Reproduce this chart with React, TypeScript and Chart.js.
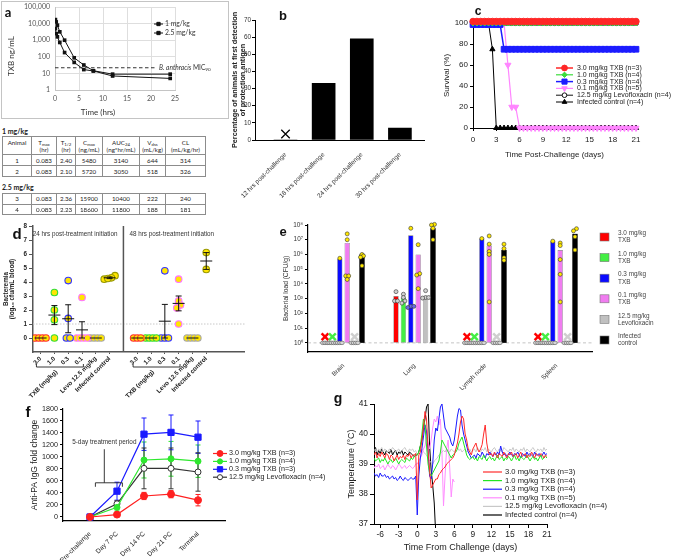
import React, { useEffect, useRef } from "react";
import { Chart, registerables } from "chart.js";

Chart.register(...registerables);

const ARIAL = "'Liberation Sans', Arial, Helvetica, sans-serif";
const CAL = "Lato, 'Liberation Sans', Arial, sans-serif";
Chart.defaults.font.family = ARIAL;
Chart.defaults.color = "#222";

/* ================= DATA ================= */
// a: plasma TXB
const pkTimesHr = [0.083, 0.25, 0.5, 1, 2, 4, 6, 8, 12, 24];
const pk1mg = [5000, 2500, 1600, 730, 180, 46, 17, 14, 7, 5];
const pk25mg = [17400, 12600, 8000, 3200, 1000, 87, 32, 14.5, 9, 9];
const pkSeries = ["1 mg/kg", "2.5 mg/kg"];
const pkYTicks = [1, 10, 100, 1000, 10000, 100000];
const pkMic90 = 22;
const pkColumns = [
  ["Animal", "", ""],
  ["T", "max", "(hr)"],
  ["T", "1/2", "(hr)"],
  ["C", "max", "(ng/mL)"],
  ["AUC", "24", "(ng*hr/mL)"],
  ["V", "dss", "(mL/kg)"],
  ["CL", "", "(mL/kg/hr)"],
];
const pkRows1mg = [
  ["1", "0.083", "2.40", "5480", "3140", "644", "314"],
  ["2", "0.083", "2.10", "5720", "3050", "518", "326"],
];
const pkRows25mg = [
  ["3", "0.083", "2.36", "15900", "10400", "222", "240"],
  ["4", "0.083", "2.23", "18600", "11800", "188", "181"],
];

// b: first detection of PA
const paTimes = ["12 hrs post-challenge", "18 hrs post-challenge", "24 hrs post-challenge", "30 hrs post-challenge"];
const paPercent = [0, 33, 59, 7];
const paNotDetectedY = 3.5;

// c: survival
const survDays = [0, 0.5, 1, 1.5, 2, 2.5, 3, 3.5, 4, 4.5, 5, 5.5, 6, 6.5, 7, 7.5, 8, 8.5, 9, 9.5, 10, 10.5, 11, 11.5, 12, 12.5, 13, 13.5, 14, 14.5, 15, 15.5, 16, 16.5, 17, 17.5, 18, 18.5, 19, 19.5, 20, 20.5, 21];
const survNames = ["3.0 mg/kg TXB (n=3)", "1.0 mg/kg TXB (n=4)", "0.3 mg/kg TXB (n=4)", "0.1 mg/kg TXB (n=5)", "12.5 mg/kg Levofloxacin (n=4)", "Infected control (n=4)"];
const surv30 = [101.5, 101.5, 101.5, 101.5, 101.5, 101.5, 101.5, 101.5, 101.5, 101.5, 101.5, 101.5, 101.5, 101.5, 101.5, 101.5, 101.5, 101.5, 101.5, 101.5, 101.5, 101.5, 101.5, 101.5, 101.5, 101.5, 101.5, 101.5, 101.5, 101.5, 101.5, 101.5, 101.5, 101.5, 101.5, 101.5, 101.5, 101.5, 101.5, 101.5, 101.5, 101.5, 101.5];
const surv10 = [100, 100, 100, 100, 100, 100, 100, 100, 100, 100, 100, 100, 100, 100, 100, 100, 100, 100, 100, 100, 100, 100, 100, 100, 100, 100, 100, 100, 100, 100, 100, 100, 100, 100, 100, 100, 100, 100, 100, 100, 100, 100, 100];
const surv03 = [98.5, 98.5, 98.5, 98.5, 98.5, 98.5, 98.5, 98.5, 75, 75, 75, 75, 75, 75, 75, 75, 75, 75, 75, 75, 75, 75, 75, 75, 75, 75, 75, 75, 75, 75, 75, 75, 75, 75, 75, 75, 75, 75, 75, 75, 75, 75, 75];
const surv01 = [100, 100, 100, 100, 100, 100, 100, 100, 100, 60, 20, 20, 0, 0, 0, 0, 0, 0, 0, 0, 0, 0, 0, 0, 0, 0, 0, 0, 0, 0, 0, 0, 0, 0, 0, 0, 0, 0, 0, 0, 0, 0, 0];
const survLevo = [100, 100, 100, 100, 100, 100, 100, 100, 100, 100, 100, 100, 100, 100, 100, 100, 100, 100, 100, 100, 100, 100, 100, 100, 100, 100, 100, 100, 100, 100, 100, 100, 100, 100, 100, 100, 100, 100, 100, 100, 100, 100, 100];
const survCtrl = [100, 100, 100, 100, 100, 75, 0, 0, 0, 0, 0, 0, 0, 0, 0, 0, 0, 0, 0, 0, 0, 0, 0, 0, 0, 0, 0, 0, 0, 0, 0, 0, 0, 0, 0, 0, 0, 0, 0, 0, 0, 0, 0];

// d: bacteremia (log10 cfu/mL)
const bactLabels = ["3.0", "1.0", "0.3", "0.1", "Levo 12.5 mg/kg", "Infected control"];
const bactSlots = [[1, 2, 3, 4, 5, 6], [8, 9, 10, 11, 12, 13]];
const bact24h = [[0, 0, 0, 0], [3.25, 2.0, 1.3, 0], [4.1, 1.4, 0, 0], [2.9, 0, 0, 0, 0], [0, 0, 0, 0], [4.45, 4.3, 4.2, 4.25]];
const bact24hPositive = [[0, 0, 0, 0], [0, 0, 0, 0], [1, 1, 0, 0], [1, 1, 0, 0, 0], [0, 0, 0, 0], [1, 1, 1, 1]];
const bact24hSem = [0, 0.68, 1.0, 0.58, 0, 0.06];
const bact48h = [[0, 0, 0], [0, 0, 0, 0], [4.8, 0, 0, 0], [4.2, 2.65, 2.35, 2.15, 1.0], [0, 0, 0, 0], [6.1, 4.9]];
const bact48hPositive = [[0, 0, 0], [0, 0, 0, 0], [1, 0, 0, 0], [1, 1, 1, 1, 1], [0, 0, 0, 0], [1, 1]];
const bact48hSem = [0, 0, 1.2, 0.53, 0, 0.6];
const bactHeaders = ["24 hrs post-treatment initiation", "48 hrs post-treatment initiation"];

// e: bacterial load in organs (CFU/g)
const organs = ["Brain", "Lung", "Lymph node", "Spleen"];
const loadLegend = [["3.0 mg/kg", "TXB"], ["1.0 mg/kg", "TXB"], ["0.3 mg/kg", "TXB"], ["0.1 mg/kg", "TXB"], ["12.5 mg/kg", "Levofloxacin"], ["Infected", "control"]];
const loadTickLabels = ["10⁰", "10¹", "10²", "10³", "10⁴", "10⁵", "10⁶", "10⁷", "10⁸"];
const loadTicks = [1, 10, 100, 1e3, 1e4, 1e5, 1e6, 1e7, 1e8];
const LOD = 1;
const loadBar30 = [null, 1500, null, null];
const loadBar10 = [null, 1200, null, null];
const loadBar03 = [5e5, 2e7, 1.2e7, 8e6];
const loadBar01 = [6e6, 1e6, 4e6, 2e6];
const loadBarLevo = [null, 1200, null, null];
const loadBarCtrl = [1e6, 6e7, 2e6, 2.5e7];
const loadPts30 = [[1, 1, 1], [3000, 700, 700], [1, 1, 1], [1, 1, 1]];
const loadPts10 = [[1, 1, 1, 1], [2000, 1200, 700, 500], [1, 1, 1, 1], [1, 1, 1, 1]];
const loadPts03 = [[5.5e5, 1, 1, 1], [6e7, 300, 300, 250], [1.2e7, 1, 1, 1], [8e6, 1, 1, 1]];
const loadPts01 = [[2.5e7, 1e7, 3.5e4, 3.5e4, 2e4], [4.6e6, 5e4, 4e4, 4.8e3], [1.8e7, 5e6, 1.6e6, 1e6, 600], [6e6, 4e6, 4.5e5, 4.5e4, 600]];
const loadPtsLevo = [[1, 1, 1, 1], [3500, 1200, 1200, 1100], [1, 1, 1, 1], [1, 1, 1, 1]];
const loadPtsCtrl = [[1e6, 8e5, 6.5e5, 1.7e5], [1.1e8, 1e8, 6e7, 1e7], [5e6, 2.5e6, 6e5, 4e5], [5.6e7, 4e7, 1.6e7, 2e6]];
const loadNotDetectedY = 2.6;

// f: anti-PA IgG
const igTimepoints = ["Pre-challenge", "Day 7 PC", "Day 14 PC", "Day 21 PC", "Terminal"];
const igNames = ["3.0 mg/kg TXB (n=3)", "1.0 mg/kg TXB (n=4)", "0.3 mg/kg TXB (n=3)", "12.5 mg/kg Levofloxacin (n=4)"];
const ig30 = [0, 40, 350, 380, 280];
const ig30Sem = [8, 20, 60, 60, 95];
const ig10 = [0, 160, 950, 970, 930];
const ig10Sem = [8, 60, 300, 290, 270];
const ig03 = [0, 430, 1380, 1410, 1330];
const ig03Sem = [8, 150, 270, 290, 270];
const igLevo = [0, 220, 810, 810, 750];
const igLevoSem = [8, 50, 340, 340, 320];
const igTreatmentLabel = "5-day treatment period";

// g: body temperature
const tempDays = [-7, -6.75, -6.5, -6.25, -6, -5.75, -5.5, -5.25, -5, -4.75, -4.5, -4.25, -4, -3.75, -3.5, -3.25, -3, -2.75, -2.5, -2.25, -2, -1.75, -1.5, -1.25, -1, -0.75, -0.5, -0.25, 0, 0.25, 0.5, 0.75, 1, 1.25, 1.5, 1.75, 2, 2.25, 2.5, 2.75, 3, 3.25, 3.5, 3.75, 4, 4.25, 4.5, 4.75, 5, 5.25, 5.5, 5.75, 6, 6.25, 6.5, 6.75, 7, 7.25, 7.5, 7.75, 8, 8.25, 8.5, 8.75, 9, 9.25, 9.5, 9.75, 10, 10.25, 10.5, 10.75, 11, 11.25, 11.5, 11.75, 12, 12.25, 12.5, 12.75, 13, 13.25, 13.5, 13.75, 14, 14.25, 14.5, 14.75, 15, 15.25, 15.5, 15.75, 16, 16.25, 16.5, 16.75, 17, 17.25, 17.5, 17.75, 18, 18.25, 18.5, 18.75, 19, 19.25, 19.5, 19.75, 20, 20.25, 20.5, 20.75, 21];
const tempTicks = [-6, -3, 0, 3, 6, 9, 12, 15, 18, 21];
const tempNames = ["3.0 mg/kg TXB (n=3)", "1.0 mg/kg TXB (n=4)", "0.3 mg/kg TXB (n=4)", "0.1 mg/kg TXB (n=5)", "12.5 mg/kg Levofloxacin (n=4)", "Infected control (n=4)"];
const temp30 = [
  39.3, 39.4, 39.2, 39.35, 39.25, 39.4, 39.3, 39.2, 39.35, 39.3, 39.15, 39.3, 39.25, 39.1, 39.2, 39.3, 39.15, 39.25, 39.2, 39.3, 39.15, 39.3, 39.25, 39.35, 39.2, 39.3, 39.3, 39.35,
  37.8, 39.3, 39.4, 39.8, 40.2, 40.75, 40.5, 39.5, 38.8, 38.2, 38.3, 38.4, 38.5, 38.5, 38.65, 38.7, 38.8, 38.85, 38.9, 39.0, 39.05, 39.1, 39.15, 39.2, 39.3, 39.5, 39.7, 40.0, 40.4, 40.6, 40.5, 40.0, 39.8, 39.5, 39.4, 39.3, 39.5, 39.6, 39.7, 39.5, 39.4, 39.5, 39.65, 40.0, 40.3, 39.7, 39.4, 39.3,
  39.35, 39.25, 39.4, 39.3, 39.2, 39.35, 39.3, 39.25, 39.4, 39.3, 39.2, 39.35, 39.3, 39.4, 39.25, 39.3, 39.35, 39.2, 39.3, 39.4, 39.25, 39.3, 39.35, 39.2, 39.3, 39.25, 39.4, 39.3, 39.2, 39.35, 39.3, 39.25, 39.35, 39.3, 39.2, 39.3, 39.25,
];
const temp10 = [
  39.2, 39.1, 39.15, 39.2, 39.05, 39.15, 39.1, 39.2, 39.1, 39.0, 39.1, 39.15, 39.05, 39.1, 39.2, 39.1, 39.0, 39.1, 39.15, 39.1, 39.05, 39.2, 39.15, 39.1, 39.2, 39.15, 39.25, 39.3,
  39.3, 39.4, 39.6, 40.0, 40.5, 40.3, 39.6, 39.0, 38.7, 38.6, 38.7, 38.8, 38.9, 39.0, 39.1, 39.4, 39.8, 39.7, 39.6, 39.5, 39.4, 39.3, 39.2, 39.3, 39.35, 39.4, 39.5, 39.7, 39.8, 39.9, 39.7, 39.5, 39.3, 39.2, 39.15, 39.2,
  39.25, 39.15, 39.2, 39.1, 39.25, 39.2, 39.15, 39.3, 39.2, 39.1, 39.2, 39.25, 39.15, 39.2, 39.1, 39.2, 39.3, 39.15, 39.2, 39.25, 39.1, 39.2, 39.15, 39.25, 39.2, 39.1, 39.2, 39.3, 39.15, 39.2, 39.1, 39.25, 39.2, 39.15, 39.2, 39.3, 39.2, 39.1, 39.2, 39.25, 39.15, 39.2, 39.1, 39.2, 39.3, 39.15, 39.2, 39.25, 39.2,
];
const temp03 = [
  38.7, 38.6, 38.65, 38.55, 38.7, 38.6, 38.6, 38.65, 38.55, 38.6, 38.5, 38.55, 38.6, 38.5, 38.55, 38.45, 38.5, 38.6, 38.5, 38.45, 38.55, 38.5, 38.45, 38.5, 38.55, 38.5, 38.5, 38.6,
  37.3, 38.6, 39.2, 39.5, 39.9, 40.3, 40.1, 39.4, 38.6, 38.5, 39.0, 39.8, 40.2, 40.1, 40.5, 40.9, 41.0, 40.6, 40.2, 40.1, 40.0, 39.9, 39.7, 39.6, 39.8, 40.2, 40.6, 40.85, 40.8, 40.3, 40.0, 39.8, 39.6, 39.4, 39.3, 39.2,
  39.25, 39.3, 39.2, 39.35, 39.3, 39.25, 39.4, 39.3, 39.2, 39.35, 39.3, 39.4, 39.3, 39.25, 39.35, 39.3, 39.4, 39.3, 39.6, 39.4, 39.3, 39.35, 39.25, 39.3, 39.4, 39.3, 39.25, 39.35, 39.3, 39.4, 39.3, 39.2, 39.35, 39.3, 39.25, 39.4, 39.3, 39.35, 39.3, 39.25, 39.4, 39.3, 39.3, 39.35, 39.25, 39.3, 39.4, 39.3, 39.35,
];
const temp01 = [
  38.85, 38.95, 38.9, 39.0, 38.85, 38.9, 38.95, 38.8, 38.9, 39.0, 38.9, 38.85, 38.95, 38.9, 38.8, 38.9, 39.0, 38.95, 38.85, 38.9, 38.95, 38.85, 38.9, 38.95, 38.9, 38.85, 38.9, 39.0,
  39.0, 39.1, 39.2, 39.3, 39.5, 39.6, 39.9, 39.7, 39.5, 39.8, 40.2, 40.5, 40.4, 40.6, 40.3, 40.5, 39.4, 37.6, 38.6, 39.5, 39.8, 38.9, 37.9, 38.5, 38.4,
];
const tempLevo = [
  39.45, 39.5, 39.4, 39.5, 39.45, 39.55, 39.4, 39.5, 39.45, 39.4, 39.5, 39.45, 39.55, 39.5, 39.4, 39.45, 39.5, 39.4, 39.45, 39.5, 39.55, 39.45, 39.4, 39.5, 39.45, 39.5, 39.4, 39.45,
  39.3, 39.4, 39.45, 39.5, 39.4, 39.35, 39.3, 39.2, 39.1, 39.05, 39.0, 39.1, 39.15, 39.2, 39.3, 39.35, 39.4, 39.45, 39.4, 39.5, 39.45, 39.4, 39.5, 39.45, 39.4, 39.5, 39.55, 39.45, 39.5, 39.4, 39.45, 39.5, 39.4, 39.45, 39.5, 39.4,
  39.45, 39.5, 39.4, 39.55, 39.45, 39.4, 39.5, 39.45, 39.55, 39.4, 39.5, 39.45, 39.4, 39.5, 39.55, 39.45, 39.4, 39.5, 39.45, 39.4, 39.55, 39.5, 39.45, 39.4, 39.5, 39.45, 39.55, 39.4, 39.5, 39.45, 39.4, 39.5, 39.45, 39.55, 39.4, 39.5, 39.45, 39.4, 39.5, 39.55, 39.45, 39.4, 39.5, 39.45, 39.5, 39.4, 39.55, 39.45, 39.5,
];
const tempCtrl = [
  39.4, 39.55, 39.3, 39.45, 39.35, 39.5, 39.4, 39.3, 39.45, 39.4, 39.35, 39.5, 39.3, 39.4, 39.45, 39.3, 39.4, 39.35, 39.45, 39.3, 39.4, 39.35, 39.3, 39.4, 39.35, 39.3, 39.25, 39.3,
  39.3, 39.4, 39.6, 39.8, 40.2, 40.5, 40.9, 41.0, 39.6, 38.8, 38.3, 37.7, 36.6,
];

/* ================= LAYOUT ================= */
type Rect = { x: number; y: number; w: number; h: number };
type Area = { l: number; t: number; r: number; b: number };
const A_CANVAS: Rect = { x: 2, y: 2, w: 226, h: 116 };
const A_AREA: Area = { l: 55, t: 7, r: 175, b: 90 };
const B_CANVAS: Rect = { x: 228, y: 0, w: 204, h: 225 };
const B_AREA: Area = { l: 255, t: 20, r: 430, b: 140 };
const C_CANVAS: Rect = { x: 432, y: 0, w: 246, h: 170 };
const C_AREA: Area = { l: 473, t: 23, r: 636, b: 128 };
const D_CANVAS: Rect = { x: 0, y: 218, w: 250, h: 180 };
const D_AREA: Area = { l: 33, t: 226, r: 247, b: 352 };
const E_CANVAS: Rect = { x: 276, y: 218, w: 402, h: 172 };
const E_AREA: Area = { l: 308, t: 225, r: 592, b: 352 };
const F_CANVAS: Rect = { x: 0, y: 400, w: 345, h: 160 };
const F_AREA: Area = { l: 63, t: 409, r: 225, b: 521 };
const G_CANVAS: Rect = { x: 340, y: 395, w: 338, h: 165 };
const G_AREA: Area = { l: 374, t: 404, r: 547, b: 524 };

function frame(c: Rect, a: Area) {
  return {
    padding: { left: 0, top: a.t - c.y, right: c.x + c.w - a.r, bottom: 0 },
    yWidth: a.l - c.x,
    xHeight: c.y + c.h - a.b,
  };
}
const fixY = (w: number) => (s: any) => {
  s.width = w;
  s.paddingTop = 0;
  s.paddingBottom = 0;
  s.paddingLeft = 0;
  s.paddingRight = 0;
};
const fixX = (h: number) => (s: any) => {
  s.height = h;
  s.paddingLeft = 0;
  s.paddingRight = 0;
  s.paddingTop = 0;
  s.paddingBottom = 0;
};
function base(f: any) {
  return {
    animation: false,
    responsive: true,
    maintainAspectRatio: false,
    events: [],
    layout: { padding: f.padding },
    plugins: { legend: { display: false }, tooltip: { enabled: false } },
  };
}

/* ================= DRAW HELPERS ================= */
function seg(ctx: any, x1: number, y1: number, x2: number, y2: number) {
  ctx.beginPath();
  ctx.moveTo(x1, y1);
  ctx.lineTo(x2, y2);
  ctx.stroke();
}
function drawMarker(ctx: any, style: string, x: number, y: number, r: number, fill: any, stroke: any, rot = 0, lw = 1) {
  ctx.save();
  ctx.beginPath();
  if (style === "rect") {
    const s = r * Math.SQRT1_2;
    ctx.rect(x - s, y - s, 2 * s, 2 * s);
  } else if (style === "rectRot") {
    ctx.moveTo(x, y - r);
    ctx.lineTo(x + r, y);
    ctx.lineTo(x, y + r);
    ctx.lineTo(x - r, y);
    ctx.closePath();
  } else if (style === "triangle") {
    for (let k = 0; k < 3; k++) {
      const ang = rot + (k * 2 * Math.PI) / 3;
      const vx = x + Math.sin(ang) * r;
      const vy = y - Math.cos(ang) * r;
      if (k === 0) ctx.moveTo(vx, vy);
      else ctx.lineTo(vx, vy);
    }
    ctx.closePath();
  } else {
    ctx.arc(x, y, r, 0, Math.PI * 2);
  }
  if (fill) {
    ctx.fillStyle = fill;
    ctx.fill();
  }
  if (stroke) {
    ctx.strokeStyle = stroke;
    ctx.lineWidth = lw;
    ctx.stroke();
  }
  ctx.restore();
}
function clusterOffsets(vals: number[], tol: number, step: number) {
  const idx = vals.map((_, i) => i).sort((a, b) => vals[a] - vals[b]);
  const out = vals.map(() => 0);
  let i = 0;
  while (i < idx.length) {
    let j = i;
    while (j + 1 < idx.length && vals[idx[j + 1]] - vals[idx[i]] <= tol) j++;
    const n = j - i + 1;
    for (let k = 0; k < n; k++) out[idx[i + k]] = (k - (n - 1) / 2) * step;
    i = j + 1;
  }
  return out;
}
function lineLegend(id: string, L: any) {
  return {
    id,
    afterDraw(chart: any) {
      const ctx = chart.ctx;
      ctx.save();
      ctx.font = `${L.size}px ${L.family || ARIAL}`;
      ctx.textBaseline = "middle";
      ctx.textAlign = "left";
      let row = 0;
      chart.data.datasets.forEach((ds: any) => {
        if (!ds.label) return;
        const y = L.y0 + row * L.dy;
        row++;
        ctx.strokeStyle = ds.borderColor;
        ctx.lineWidth = L.lw ?? ds.borderWidth ?? 1;
        seg(ctx, L.x0, y, L.x1, y);
        if (ds.pointRadius)
          drawMarker(ctx, ds.pointStyle, (L.x0 + L.x1) / 2, y, ds.pointRadius * (L.markerScale || 1), ds.pointBackgroundColor, ds.pointBorderColor, ((ds.pointRotation || 0) * Math.PI) / 180);
        ctx.fillStyle = L.color || "#222";
        ctx.fillText(ds.label, L.tx, y);
      });
      ctx.restore();
    },
  };
}
const yTickAxis = (extra: any) => ({
  grid: { drawOnChartArea: false, drawTicks: true, tickLength: 3, color: "#000" },
  border: { color: "#000", width: 1 },
  ...extra,
});

/* ================= PANEL CONFIGS ================= */
function configA() {
  const f = frame(A_CANVAS, A_AREA);
  const mk = (label: string, vals: number[]) => ({
    label,
    data: pkTimesHr.map((t, i) => ({ x: t, y: vals[i] })),
    borderColor: "#111",
    backgroundColor: "#111",
    borderWidth: 1,
    pointStyle: "rect",
    pointRadius: 2.6,
    pointBackgroundColor: "#111",
    pointBorderColor: "#111",
    pointBorderWidth: 0,
  });
  const extras = {
    id: "pkExtras",
    afterDraw(chart: any) {
      const { ctx, chartArea: a, scales } = chart;
      const y = scales.y.getPixelForValue(pkMic90);
      ctx.save();
      ctx.strokeStyle = "#333";
      ctx.lineWidth = 1.1;
      ctx.setLineDash([3.5, 2.5]);
      seg(ctx, a.left, y, a.right - 18, y);
      ctx.setLineDash([]);
      let x = a.right - 16;
      ctx.fillStyle = "#333";
      ctx.textBaseline = "middle";
      ctx.textAlign = "left";
      ctx.font = `italic 6.6px ${CAL}`;
      ctx.fillText("B. anthracis", x, y);
      x += ctx.measureText("B. anthracis").width;
      ctx.font = `6.6px ${CAL}`;
      ctx.fillText(" MIC", x, y);
      x += ctx.measureText(" MIC").width;
      ctx.font = `4.6px ${CAL}`;
      ctx.fillText("90", x, y + 2);
      ctx.font = `8px ${CAL}`;
      ctx.textAlign = "center";
      ctx.fillStyle = "#333";
      ctx.fillText("Time (hrs)", 96, 110);
      ctx.translate(9.5, 54);
      ctx.rotate(-Math.PI / 2);
      ctx.fillText("TXB ng/mL", 0, 0);
      ctx.restore();
    },
  };
  return {
    type: "line",
    data: { datasets: [mk(pkSeries[0], pk1mg), mk(pkSeries[1], pk25mg)] },
    options: {
      ...base(f),
      scales: {
        x: {
          type: "linear",
          min: 0,
          max: 25,
          ticks: { stepSize: 5, padding: 5, font: { family: CAL, size: 7 }, color: "#555" },
          grid: { color: "#dedede", drawTicks: false },
          border: { color: "#c4c4c4" },
          afterFit: fixX(f.xHeight),
        },
        y: {
          type: "logarithmic",
          min: 1,
          max: 100000,
          afterBuildTicks: (s: any) => {
            s.ticks = pkYTicks.map((v) => ({ value: v }));
          },
          ticks: { padding: 5, font: { family: CAL, size: 7 }, color: "#555", callback: (v: any) => Number(v).toLocaleString("en-US") },
          grid: { color: "#dedede", drawTicks: false },
          border: { color: "#c4c4c4" },
          afterFit: fixY(f.yWidth),
        },
      },
    },
    plugins: [extras, lineLegend("legA", { x0: 152, x1: 161, tx: 163, y0: 22, dy: 9, size: 6.8, family: CAL, color: "#333", markerScale: 0.9 })],
  };
}

function configB() {
  const f = frame(B_CANVAS, B_AREA);
  return {
    type: "bar",
    data: {
      datasets: [
        { type: "bar", data: paPercent.map((v, i) => ({ x: i, y: v })), backgroundColor: "#000", borderWidth: 0, barThickness: 23, order: 2 },
        { type: "scatter", data: [{ x: 0, y: paNotDetectedY }], pointStyle: "crossRot", pointRadius: 6, pointBorderColor: "#000", pointBorderWidth: 1.3, order: 1 },
      ],
    },
    options: {
      ...base(f),
      scales: {
        x: {
          type: "linear",
          offset: false,
          min: -0.8,
          max: 3.65,
          afterBuildTicks: (s: any) => {
            s.ticks = paTimes.map((_, i) => ({ value: i }));
          },
          ticks: { autoSkip: false, minRotation: 45, maxRotation: 45, padding: 3, font: { size: 6.4 }, color: "#333", callback: (v: any) => paTimes[v] },
          grid: { display: false },
          border: { color: "#000", width: 1 },
          afterFit: fixX(f.xHeight),
        },
        y: yTickAxis({
          min: 0,
          max: 70,
          ticks: { stepSize: 10, padding: 1, font: { size: 6.4 }, color: "#333" },
          title: {
            display: true,
            text: ["Percentage of animals at first detection", "of protection antigen"],
            font: { size: 7.3, weight: "bold", lineHeight: 1.1 },
            color: "#222",
            padding: { top: 3, bottom: 0 },
          },
          afterFit: fixY(f.yWidth),
        }),
      },
    },
  };
}

function configC() {
  const f = frame(C_CANVAS, C_AREA);
  const mk = (label: string, vals: number[], color: string, style: string, r: number, bg: string, lw: number, extra: any = {}) => ({
    label,
    data: survDays.map((d, i) => ({ x: d, y: vals[i] })),
    borderColor: color,
    backgroundColor: bg,
    borderWidth: lw,
    pointStyle: style,
    pointRadius: r,
    pointBackgroundColor: bg,
    pointBorderColor: color,
    pointBorderWidth: 1,
    clip: false,
    ...extra,
  });
  return {
    type: "line",
    data: {
      datasets: [
        mk(survNames[0], surv30, "#ff2626", "circle", 3.2, "#ff2626", 1.5),
        mk(survNames[1], surv10, "#3cdc3c", "rectRot", 3, "#3cdc3c", 1.2),
        mk(survNames[2], surv03, "#1c1cff", "rect", 4, "#1c1cff", 1.5),
        mk(survNames[3], surv01, "#ff85ff", "triangle", 3.5, "#ff85ff", 1.2, { pointRotation: 180 }),
        mk(survNames[4], survLevo, "#111", "circle", 2.6, "#fff", 1),
        mk(survNames[5], survCtrl, "#000", "triangle", 3, "#000", 1),
      ],
    },
    options: {
      ...base(f),
      scales: {
        x: yTickAxis({
          type: "linear",
          min: 0,
          max: 21,
          ticks: { stepSize: 3, padding: 4, font: { size: 8 }, color: "#222" },
          title: { display: true, text: "Time Post-Challenge (days)", font: { size: 8 }, color: "#222", padding: { top: 0, bottom: 10 } },
          afterFit: fixX(f.xHeight),
        }),
        y: yTickAxis({
          min: 0,
          max: 100,
          ticks: { stepSize: 10, padding: 2, font: { size: 8 }, color: "#222" },
          title: { display: true, text: "Survival (%)", font: { size: 8 }, color: "#222", padding: { top: 10, bottom: 0 } },
          afterFit: fixY(f.yWidth),
        }),
      },
    },
    plugins: [lineLegend("legC", { x0: 124, x1: 141, tx: 145, y0: 68, dy: 6.8, size: 7, markerScale: 0.9 })],
  };
}

const bactEdge = ["#ff3030", "#33dd33", "#3434ff", "#ff74ff", "#a8a8a8", "#9a9a00"];
const bactFill = ["rgba(255,140,140,0.35)", "rgba(0,0,0,0)", "rgba(0,0,0,0)", "rgba(0,0,0,0)", "#b3b3b3", "#f2e200"];

function configD() {
  const f = frame(D_CANVAS, D_AREA);
  const datasets: any[] = [];
  const groups: any[] = [];
  [bact24h, bact48h].forEach((set, h) => {
    const flags = h === 0 ? bact24hPositive : bact48hPositive;
    const sems = h === 0 ? bact24hSem : bact48hSem;
    set.forEach((vals, g) => {
      const pos = bactSlots[h][g];
      const offs = clusterOffsets(vals, 0.3, 0.26);
      datasets.push({
        type: "scatter",
        data: vals.map((v, k) => ({ x: pos + offs[k], y: v })),
        pointRadius: 3.3,
        pointBorderWidth: 1.1,
        pointBorderColor: bactEdge[g],
        pointBackgroundColor: vals.map((_, k) => (flags[k] ? "#ffe500" : bactFill[g])),
      });
      groups.push({ pos, mean: vals.reduce((a, b) => a + b, 0) / vals.length, sem: sems[g] });
    });
  });
  const extras = {
    id: "dExtras",
    beforeDatasetsDraw(chart: any) {
      const { ctx, chartArea: a, scales } = chart;
      const { x, y } = scales;
      ctx.save();
      ctx.strokeStyle = "#c8c8c8";
      ctx.lineWidth = 1;
      ctx.setLineDash([1.5, 1.5]);
      seg(ctx, a.left, y.getPixelForValue(1), a.right, y.getPixelForValue(1));
      ctx.setLineDash([]);
      ctx.strokeStyle = "#555";
      ctx.lineWidth = 1.5;
      seg(ctx, x.getPixelForValue(7), a.top, x.getPixelForValue(7), a.bottom);
      ctx.restore();
    },
    afterDatasetsDraw(chart: any) {
      const { ctx, scales } = chart;
      const { x, y } = scales;
      ctx.save();
      ctx.strokeStyle = "#111";
      ctx.lineWidth = 1;
      groups.forEach((g) => {
        const px = x.getPixelForValue(g.pos);
        const my = y.getPixelForValue(g.mean);
        seg(ctx, px - 6, my, px + 6, my);
        if (g.sem > 0) {
          const t = y.getPixelForValue(g.mean + g.sem);
          const b = y.getPixelForValue(g.mean - g.sem);
          seg(ctx, px, t, px, b);
          seg(ctx, px - 3, t, px + 3, t);
          seg(ctx, px - 3, b, px + 3, b);
        }
      });
      ctx.restore();
    },
    afterDraw(chart: any) {
      const { ctx, chartArea: a, scales } = chart;
      const { x } = scales;
      ctx.save();
      ctx.fillStyle = "#333";
      ctx.font = `6.3px ${ARIAL}`;
      ctx.textAlign = "center";
      ctx.textBaseline = "middle";
      ctx.fillText(bactHeaders[0], x.getPixelForValue(3.5), a.top + 8);
      ctx.fillText(bactHeaders[1], x.getPixelForValue(10.5), a.top + 8);
      ctx.strokeStyle = "#222";
      ctx.lineWidth = 0.9;
      bactSlots.forEach((slots) => {
        const x0 = x.getPixelForValue(slots[0] - 0.3);
        const x1 = x.getPixelForValue(slots[3] + 0.1);
        const by = a.bottom + 15;
        ctx.beginPath();
        ctx.moveTo(x0, by - 3);
        ctx.lineTo(x0, by);
        ctx.lineTo(x1, by);
        ctx.lineTo(x1, by - 3);
        ctx.stroke();
        ctx.save();
        ctx.translate(x.getPixelForValue(slots[0] + 1.15), by + 4);
        ctx.rotate(-Math.PI / 4);
        ctx.font = `bold 6.3px ${ARIAL}`;
        ctx.textAlign = "right";
        ctx.fillStyle = "#222";
        ctx.fillText("TXB (mg/kg)", 0, 0);
        ctx.restore();
      });
      ctx.restore();
    },
  };
  const allSlots = [...bactSlots[0], ...bactSlots[1]];
  return {
    type: "scatter",
    data: { datasets },
    options: {
      ...base(f),
      scales: {
        x: {
          type: "linear",
          min: 0.45,
          max: 15.8,
          afterBuildTicks: (s: any) => {
            s.ticks = allSlots.map((v) => ({ value: v }));
          },
          ticks: {
            autoSkip: false,
            minRotation: 45,
            maxRotation: 45,
            padding: 1,
            font: { size: 6.3, weight: "bold" },
            color: "#222",
            callback: (v: any) => bactLabels[allSlots.indexOf(v) % 6],
          },
          grid: { drawOnChartArea: false, tickLength: 2, color: "#555" },
          border: { color: "#555", width: 1.5 },
          afterFit: fixX(f.xHeight),
        },
        y: {
          min: -1,
          max: 8,
          afterBuildTicks: (s: any) => {
            s.ticks = [0, 1, 2, 3, 4, 5, 6, 7, 8].map((v) => ({ value: v }));
          },
          ticks: { padding: 2, font: { size: 6.3, weight: "bold" }, color: "#222" },
          grid: { drawOnChartArea: false, tickLength: 4, color: "#555" },
          border: { color: "#555", width: 1.5 },
          title: {
            display: true,
            text: ["Bacteremia", "(log₁₀ cfu/mL blood)"],
            font: { size: 6.3, weight: "bold", lineHeight: 1.05 },
            color: "#222",
            padding: { top: 2.7, bottom: 0 },
          },
          afterFit: fixY(f.yWidth),
        },
      },
    },
    plugins: [extras],
  };
}

const loadColors = ["#ff0000", "#44ee44", "#0a0aff", "#f07cf0", "#c0c0c0", "#000000"];
const loadBars = [loadBar30, loadBar10, loadBar03, loadBar01, loadBarLevo, loadBarCtrl];
const loadPts = [loadPts30, loadPts10, loadPts03, loadPts01, loadPtsLevo, loadPtsCtrl];

function configE() {
  const f = frame(E_CANVAS, E_AREA);
  const datasets = loadBars.map((bars, s) => ({
    label: loadLegend[s].join(" "),
    data: bars.map((v) => (v === null ? null : [LOD, v])),
    backgroundColor: loadColors[s],
    borderColor: s === 5 ? "#000" : "#777",
    borderWidth: s === 5 ? 0 : 0.6,
    borderSkipped: false,
  }));
  const extras = {
    id: "eExtras",
    beforeDatasetsDraw(chart: any) {
      const { ctx, chartArea: a, scales } = chart;
      const y0 = scales.y.getPixelForValue(LOD);
      ctx.save();
      ctx.strokeStyle = "#b5b5b5";
      ctx.lineWidth = 0.8;
      ctx.setLineDash([3, 2.5]);
      seg(ctx, a.left, y0, a.right, y0);
      ctx.restore();
    },
    afterDatasetsDraw(chart: any) {
      const { ctx, scales } = chart;
      const ys = scales.y;
      ctx.save();
      loadPts.forEach((perOrgan, s) => {
        const meta = chart.getDatasetMeta(s);
        perOrgan.forEach((vals, j) => {
          const el = meta.data[j];
          const bx = el ? el.x : 0;
          if (loadBars[s][j] === null) {
            const xy = ys.getPixelForValue(loadNotDetectedY);
            ctx.strokeStyle = s === 4 ? "#cfcfcf" : loadColors[s];
            ctx.lineWidth = 2.5;
            seg(ctx, bx - 3.4, xy - 3.4, bx + 3.4, xy + 3.4);
            seg(ctx, bx - 3.4, xy + 3.4, bx + 3.4, xy - 3.4);
          }
          const lods = vals.filter((v) => v === LOD);
          lods.forEach((_, k) => {
            const ox = (k - (lods.length - 1) / 2) * 2.2;
            ctx.beginPath();
            ctx.ellipse(bx + ox, ys.getPixelForValue(LOD), 2.3, 1.8, 0, 0, Math.PI * 2);
            ctx.fillStyle = "#d6d6d6";
            ctx.fill();
            ctx.strokeStyle = "#555";
            ctx.lineWidth = 0.6;
            ctx.stroke();
          });
          const det = vals.filter((v) => v !== LOD);
          const logs = det.map((v) => Math.log10(v));
          const offs = clusterOffsets(logs, 0.15, 3);
          det.forEach((v, k) => {
            let fill = "#ffe800";
            if (s === 0 || s === 1 || s === 4) fill = "#d0d0d0";
            if (s === 2 && v < 1000) fill = "#6a6ae6";
            drawMarker(ctx, "circle", bx + offs[k], ys.getPixelForValue(v), 2, fill, "#333", 0, 0.6);
          });
        });
      });
      ctx.restore();
    },
    afterDraw(chart: any) {
      const ctx = chart.ctx;
      ctx.save();
      ctx.font = `6.4px ${ARIAL}`;
      ctx.textBaseline = "middle";
      ctx.textAlign = "left";
      loadLegend.forEach((lines, s) => {
        const cy = 19 + s * 20.6;
        ctx.fillStyle = loadColors[s];
        ctx.fillRect(324, cy - 4, 9, 8);
        ctx.strokeStyle = "#777";
        ctx.lineWidth = 0.6;
        ctx.strokeRect(324, cy - 4, 9, 8);
        ctx.fillStyle = "#444";
        ctx.fillText(lines[0], 342, cy - 3.6);
        ctx.fillText(lines[1], 342, cy + 3.6);
      });
      ctx.restore();
    },
  };
  return {
    type: "bar",
    data: { labels: organs, datasets },
    options: {
      ...base(f),
      datasets: { bar: { categoryPercentage: 0.625, barPercentage: 0.72 } },
      scales: {
        x: {
          ticks: { autoSkip: false, minRotation: 45, maxRotation: 45, padding: 2, font: { size: 6.4 }, color: "#333" },
          grid: { display: false },
          border: { color: "#000", width: 1.2 },
          afterFit: fixX(f.xHeight),
        },
        y: {
          type: "logarithmic",
          min: 0.24,
          max: 1e8,
          afterBuildTicks: (s: any) => {
            s.ticks = loadTicks.map((v) => ({ value: v }));
          },
          ticks: { padding: 2, font: { size: 6.4 }, color: "#333", callback: (v: any) => loadTickLabels[loadTicks.indexOf(v)] },
          grid: { drawOnChartArea: false, tickLength: 3, color: "#000" },
          border: { color: "#000", width: 1.2 },
          title: { display: true, text: "Bacterial load (CFU/g)", font: { size: 6.6 }, color: "#333", padding: { top: 6, bottom: 0 } },
          afterFit: fixY(f.yWidth),
        },
      },
    },
    plugins: [extras],
  };
}

function configF() {
  const f = frame(F_CANVAS, F_AREA);
  const sems = [ig30Sem, ig10Sem, ig03Sem, igLevoSem];
  const mk = (label: string, vals: number[], color: string, style: string, r: number, bg: string) => ({
    label,
    data: vals.map((v, i) => ({ x: i, y: v })),
    borderColor: color,
    backgroundColor: bg,
    borderWidth: 1.2,
    pointStyle: style,
    pointRadius: r,
    pointBackgroundColor: bg,
    pointBorderColor: color,
    pointBorderWidth: 1,
    clip: false,
  });
  const extras = {
    id: "fExtras",
    beforeDatasetsDraw(chart: any) {
      const { ctx, scales } = chart;
      const { x, y } = scales;
      ctx.save();
      chart.data.datasets.forEach((ds: any, i: number) => {
        ctx.strokeStyle = ds.borderColor;
        ctx.lineWidth = 1;
        ds.data.forEach((p: any, j: number) => {
          const e = sems[i][j];
          const px = x.getPixelForValue(p.x);
          const t = y.getPixelForValue(p.y + e);
          const b = y.getPixelForValue(Math.max(p.y - e, -60));
          seg(ctx, px, t, px, b);
          seg(ctx, px - 2.5, t, px + 2.5, t);
          seg(ctx, px - 2.5, b, px + 2.5, b);
        });
      });
      ctx.restore();
    },
    afterDraw(chart: any) {
      const { ctx, scales } = chart;
      const { x, y } = scales;
      ctx.save();
      const x0 = x.getPixelForValue(0.2);
      const x1 = x.getPixelForValue(1.2);
      const xm = x.getPixelForValue(0.53);
      const by = y.getPixelForValue(570);
      ctx.strokeStyle = "#222";
      ctx.lineWidth = 0.9;
      ctx.beginPath();
      ctx.moveTo(x0, by + 4);
      ctx.lineTo(x0, by);
      ctx.lineTo(x1, by);
      ctx.lineTo(x1, by + 4);
      ctx.stroke();
      seg(ctx, xm, by, xm, y.getPixelForValue(1130));
      ctx.font = `6.4px ${ARIAL}`;
      ctx.fillStyle = "#333";
      ctx.textAlign = "center";
      ctx.textBaseline = "middle";
      ctx.fillText(igTreatmentLabel, xm, y.getPixelForValue(1240));
      ctx.restore();
    },
  };
  return {
    type: "line",
    data: {
      datasets: [
        mk(igNames[0], ig30, "#ff2020", "circle", 3.5, "#ff2020"),
        mk(igNames[1], ig10, "#2ee82e", "circle", 3, "#2ee82e"),
        mk(igNames[2], ig03, "#1a1aff", "rect", 4.4, "#1a1aff"),
        mk(igNames[3], igLevo, "#333", "circle", 3, "#fff"),
      ],
    },
    options: {
      ...base(f),
      scales: {
        x: {
          type: "linear",
          min: -1,
          max: 5,
          afterBuildTicks: (s: any) => {
            s.ticks = igTimepoints.map((_, i) => ({ value: i }));
          },
          ticks: { autoSkip: false, minRotation: 45, maxRotation: 45, padding: 1, font: { size: 6.6 }, color: "#222", callback: (v: any) => igTimepoints[v] },
          grid: { display: false },
          border: { color: "#000", width: 1.2 },
          afterFit: fixX(f.xHeight),
        },
        y: yTickAxis({
          min: -67,
          max: 1800,
          ticks: { stepSize: 200, includeBounds: false, padding: 2, font: { size: 7.2 }, color: "#222", callback: (v: any) => String(v) },
          grid: { drawOnChartArea: false, tickLength: 3, color: "#000" },
          border: { color: "#000", width: 1.2 },
          title: { display: true, text: "Anti-PA IgG fold change", font: { size: 8.5 }, color: "#222", padding: { top: 30, bottom: 0 } },
          afterFit: fixY(f.yWidth),
        }),
      },
    },
    plugins: [extras, lineLegend("legF", { x0: 213, x1: 227, tx: 229, y0: 53.5, dy: 7.9, size: 7.2, markerScale: 0.85 })],
  };
}

function configG() {
  const f = frame(G_CANVAS, G_AREA);
  const mk = (label: string, vals: number[], color: string) => ({
    label,
    data: vals.map((v, i) => ({ x: tempDays[i], y: v })),
    borderColor: color,
    borderWidth: 1,
    pointRadius: 0,
    tension: 0,
  });
  return {
    type: "line",
    data: {
      datasets: [
        mk(tempNames[0], temp30, "#ff2a2a"),
        mk(tempNames[1], temp10, "#22e622"),
        mk(tempNames[2], temp03, "#1a1aff"),
        mk(tempNames[3], temp01, "#ff8cff"),
        mk(tempNames[4], tempLevo, "#c8c8c8"),
        mk(tempNames[5], tempCtrl, "#000000"),
      ],
    },
    options: {
      ...base(f),
      scales: {
        x: yTickAxis({
          type: "linear",
          min: -7,
          max: 21,
          afterBuildTicks: (s: any) => {
            s.ticks = tempTicks.map((v) => ({ value: v }));
          },
          ticks: { autoSkip: false, padding: 2, font: { size: 8.4 }, color: "#222" },
          grid: { drawOnChartArea: false, tickLength: 4, color: "#000" },
          title: { display: true, text: "Time From Challenge (days)", font: { size: 9 }, color: "#222", padding: { top: 0, bottom: 6.6 } },
          afterFit: fixX(f.xHeight),
        }),
        y: yTickAxis({
          min: 37,
          max: 41,
          ticks: { stepSize: 1, padding: 2, font: { size: 8.4 }, color: "#222" },
          grid: { drawOnChartArea: false, tickLength: 4, color: "#000" },
          title: { display: true, text: "Temperature (°C)", font: { size: 9 }, color: "#222", padding: { top: 6.6, bottom: 0 } },
          afterFit: fixY(f.yWidth),
        }),
      },
    },
    plugins: [lineLegend("legG", { x0: 143, x1: 162, tx: 165, y0: 77, dy: 8.6, size: 7.6, lw: 1.2 })],
  };
}

/* ================= COMPONENTS ================= */
function ChartBox({ rect, make }: { rect: Rect; make: () => any }) {
  const ref = useRef<HTMLCanvasElement>(null);
  useEffect(() => {
    const chart = new Chart(ref.current as HTMLCanvasElement, make());
    return () => chart.destroy();
  }, []);
  return (
    <div style={{ position: "absolute", left: rect.x, top: rect.y, width: rect.w, height: rect.h }}>
      <canvas ref={ref} />
    </div>
  );
}

const pkColWidths = [29, 25, 19, 27, 37, 26, 40];
const cellStyle: any = { border: "1px solid #8c8c8c", padding: 0, textAlign: "center", verticalAlign: "middle", overflow: "hidden", whiteSpace: "nowrap" };

function PkTable({ top, rows, header, rowH }: { top: number; rows: string[][]; header: boolean; rowH: number }) {
  return (
    <table
      style={{
        position: "absolute",
        left: 2,
        top,
        width: 203,
        borderCollapse: "collapse",
        tableLayout: "fixed",
        fontFamily: CAL,
        fontSize: 6.2,
        color: "#222",
        lineHeight: "7px",
      }}
    >
      <colgroup>
        {pkColWidths.map((w, i) => (
          <col key={i} style={{ width: w }} />
        ))}
      </colgroup>
      <tbody>
        {header && (
          <tr style={{ height: 18 }}>
            {pkColumns.map((c, i) => (
              <td key={i} style={{ ...cellStyle, verticalAlign: "top", paddingTop: 2 }}>
                {c[0]}
                {c[1] && <sub style={{ fontSize: 4.3, verticalAlign: "-1px", lineHeight: 0 }}>{c[1]}</sub>}
                {c[2] && (
                  <>
                    <br />
                    {c[2]}
                  </>
                )}
              </td>
            ))}
          </tr>
        )}
        {rows.map((r, i) => (
          <tr key={i} style={{ height: rowH }}>
            {r.map((c, j) => (
              <td key={j} style={cellStyle}>
                {c}
              </td>
            ))}
          </tr>
        ))}
      </tbody>
    </table>
  );
}

const panelLetters: [string, number, number, number, string][] = [
  ["a", 8, 13, 13, CAL],
  ["b", 283, 16, 13, ARIAL],
  ["c", 478, 12, 12, ARIAL],
  ["d", 17, 234, 15, ARIAL],
  ["e", 283, 232, 13, ARIAL],
  ["f", 28, 412, 15, ARIAL],
  ["g", 338, 399, 14, ARIAL],
];

export default function App() {
  return (
    <div
      style={{
        position: "fixed",
        left: 0,
        top: 0,
        width: 678,
        height: 560,
        background: "#fff",
        overflow: "hidden",
        fontFamily: ARIAL,
      }}
    >
      <div style={{ position: "absolute", left: 1, top: 1, width: 228, height: 118, border: "1px solid #c4c4c4", boxSizing: "border-box" }} />
      <ChartBox rect={A_CANVAS} make={configA} />
      <ChartBox rect={B_CANVAS} make={configB} />
      <ChartBox rect={C_CANVAS} make={configC} />
      <ChartBox rect={D_CANVAS} make={configD} />
      <ChartBox rect={E_CANVAS} make={configE} />
      <ChartBox rect={F_CANVAS} make={configF} />
      <ChartBox rect={G_CANVAS} make={configG} />
      <div style={{ position: "absolute", left: 2, top: 127, fontFamily: CAL, fontWeight: "bold", fontSize: 7, lineHeight: "8px", color: "#222" }}>1 mg/kg</div>
      <PkTable top={136} rows={pkRows1mg} header={true} rowH={11} />
      <div style={{ position: "absolute", left: 2, top: 183, fontFamily: CAL, fontWeight: "bold", fontSize: 7, lineHeight: "8px", color: "#222" }}>2.5 mg/kg</div>
      <PkTable top={193} rows={pkRows25mg} header={false} rowH={10.5} />
      {panelLetters.map(([t, x, y, s, fam]) => (
        <div
          key={t}
          style={{
            position: "absolute",
            left: x,
            top: y,
            transform: "translate(-50%, -55%)",
            fontFamily: fam,
            fontWeight: "bold",
            fontSize: s,
            lineHeight: 1,
            color: "#111",
          }}
        >
          {t}
        </div>
      ))}
    </div>
  );
}
